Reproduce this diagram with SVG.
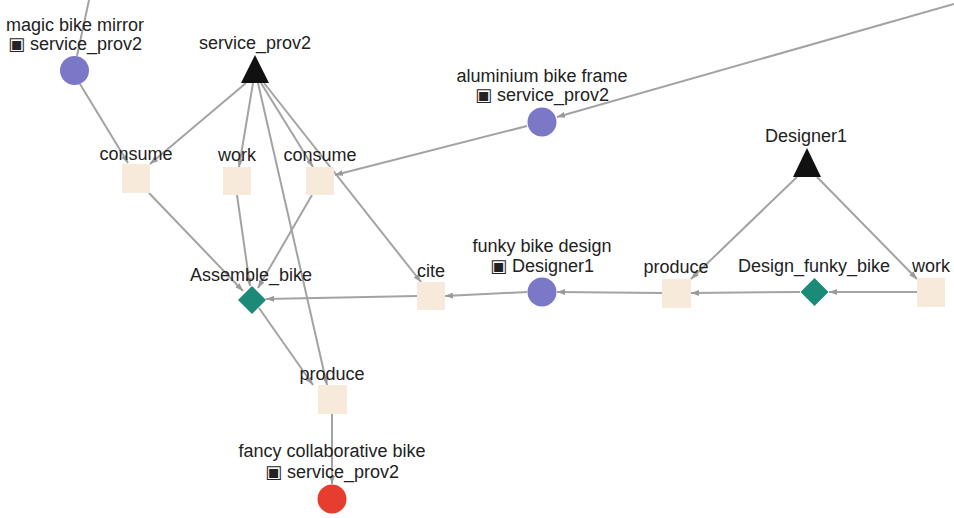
<svg xmlns="http://www.w3.org/2000/svg" width="954" height="518" viewBox="0 0 954 518">
<defs>
<marker id="arr" markerWidth="8" markerHeight="6" refX="8" refY="3" orient="auto" markerUnits="userSpaceOnUse"><path d="M0,0 L8,3 L0,6 z" fill="#9a9a9a"/></marker>
<style>
.e{stroke:#a3a3a3;stroke-width:2;fill:none}
.m{marker-end:url(#arr)}
.ent{fill:#7c78c8}
.act{fill:#f8eadb}
.ag{fill:#111}
.proc{fill:#1b8a77}
.t{font-family:"Liberation Sans","DejaVu Sans",Arial,sans-serif;font-size:18px;fill:#222;text-anchor:middle}
</style>
</defs>
<rect width="954" height="518" fill="#fff"/>
<g id="connectors">
<line class="e" x1="89" y1="0" x2="77" y2="56"/>
<line class="e m" x1="80" y1="84" x2="128" y2="163"/>
<line class="e m" x1="246" y1="83" x2="150" y2="164"/>
<line class="e m" x1="253" y1="83" x2="239" y2="167"/>
<line class="e m" x1="261" y1="83" x2="313" y2="167"/>
<line class="e m" x1="264" y1="83" x2="421" y2="282"/>
<line class="e m" x1="258" y1="83" x2="327" y2="385"/>
<line class="e m" x1="527" y1="126" x2="335" y2="175"/>
<line class="e m" x1="954" y1="4" x2="557" y2="117"/>
<line class="e m" x1="149" y1="193" x2="243" y2="291"/>
<line class="e m" x1="237" y1="195" x2="250" y2="286"/>
<line class="e m" x1="312" y1="195" x2="258" y2="288"/>
<line class="e m" x1="417" y1="296" x2="266" y2="299"/>
<line class="e m" x1="259" y1="308" x2="313" y2="385"/>
<line class="e m" x1="527" y1="292" x2="445" y2="296"/>
<line class="e m" x1="662" y1="293" x2="557" y2="292"/>
<line class="e m" x1="800" y1="292" x2="691" y2="293"/>
<line class="e m" x1="917" y1="292" x2="829" y2="292"/>
<line class="e m" x1="797" y1="177" x2="691" y2="279"/>
<line class="e m" x1="817" y1="177" x2="917" y2="279"/>
<line class="e m" x1="332" y1="414" x2="332" y2="484"/>
</g>
<g id="magic_bike_mirror"><circle class="ent" cx="74.5" cy="70.5" r="14.5"/><text class="t" x="75" y="31">magic bike mirror</text><text class="t" x="75" y="50">▣ service_prov2</text></g>
<g id="service_prov2"><polygon class="ag" points="255,55 269,83 241,83"/><text class="t" x="255" y="49">service_prov2</text></g>
<g id="consume1"><rect class="act" x="122" y="164" width="28" height="29"/><text class="t" x="136" y="160">consume</text></g>
<g id="work1"><rect class="act" x="223" y="167" width="28" height="28"/><text class="t" x="237" y="161">work</text></g>
<g id="consume2"><rect class="act" x="306" y="167" width="28" height="28"/><text class="t" x="320" y="161">consume</text></g>
<g id="aluminium_bike_frame"><circle class="ent" cx="542" cy="122" r="14.5"/><text class="t" x="542" y="82">aluminium bike frame</text><text class="t" x="542" y="101">▣ service_prov2</text></g>
<g id="Designer1"><polygon class="ag" points="807,148 821,177 793,177"/><text class="t" x="806" y="142">Designer1</text></g>
<g id="Assemble_bike"><polygon class="proc" points="252,286 266,300 252,314 238,300"/><text class="t" x="251" y="281">Assemble_bike</text></g>
<g id="cite"><rect class="act" x="417" y="282" width="28" height="28"/><text class="t" x="431" y="277">cite</text></g>
<g id="funky_bike_design"><circle class="ent" cx="542" cy="292" r="14.5"/><text class="t" x="542" y="252">funky bike design</text><text class="t" x="542" y="272">▣ Designer1</text></g>
<g id="produce2"><rect class="act" x="662" y="279" width="29" height="29"/><text class="t" x="676" y="273">produce</text></g>
<g id="Design_funky_bike"><polygon class="proc" points="814.5,278 828.5,292 814.5,306 800.5,292"/><text class="t" x="814" y="272">Design_funky_bike</text></g>
<g id="work2"><rect class="act" x="917" y="278" width="28" height="29"/><text class="t" x="931" y="272">work</text></g>
<g id="produce1"><rect class="act" x="318" y="385" width="29" height="29"/><text class="t" x="332" y="380">produce</text></g>
<g id="fancy_collaborative_bike"><circle cx="332" cy="499" r="14.5" fill="#e53e2e"/><text class="t" x="332" y="457">fancy collaborative bike</text><text class="t" x="332" y="478">▣ service_prov2</text></g>
</svg>
